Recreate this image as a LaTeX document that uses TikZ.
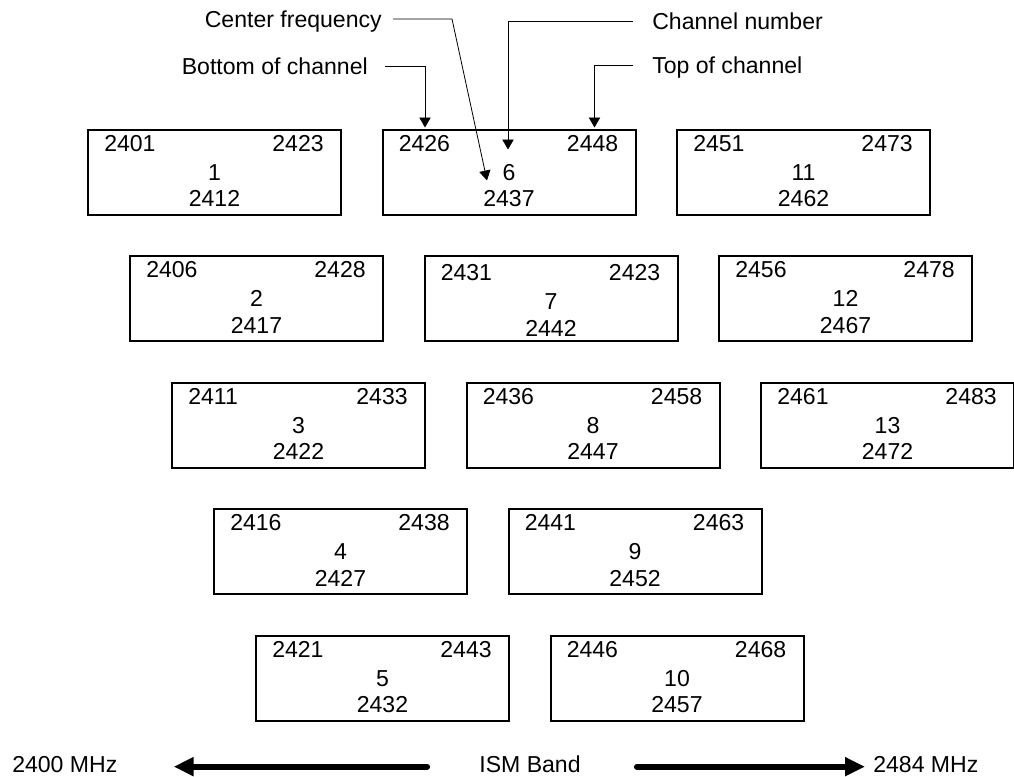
\documentclass[tikz,border=0pt]{standalone}
\usepackage{fontspec}
\setmainfont{Liberation Sans}
\usetikzlibrary{arrows.meta,calc}

\tikzset{
  chanbox/.style={draw, line width=1.5pt, anchor=north west, inner sep=0pt,
    minimum width=189.75pt, minimum height=63.75pt},
  txt/.style={inner sep=0pt, font=\fontsize{17.3}{20}\selectfont,
    text height=12.4pt, text depth=0pt},
  note/.style={line width=0.6pt, -{Triangle[length=7.5pt,width=8.5pt]}},
  bandarrow/.style={line width=4.5pt, line cap=round,
    -{Triangle[length=15pt,width=13.5pt]}},
}

% one channel box: id, left, top, low edge, high edge, channel, centre, text offset
\newcommand\chanbox[8]{%
  \node[chanbox] (#1) at (#2,#3) {};
  \node[txt, anchor=west] (#1lo) at ($(#1.north west)+(17,{14.5+#8})$) {#4};
  \node[txt, anchor=east] (#1hi) at ($(#1.north east)+(-18,{14.5+#8})$) {#5};
  \node[txt] (#1num) at ($(#1.north)+(0,{43.5+#8})$) {#6};
  \node[txt] (#1mid) at ($(#1.north)+(0,{70+#8})$) {#7};
}

\begin{document}
\begin{tikzpicture}[x=0.75pt, y=-0.75pt]
  \useasboundingbox (0,0) rectangle (1014,776);

  % channels, one row per step of 5 MHz
  \chanbox{c1}{87}{128.5}{2401}{2423}{1}{2412}{0}
  \chanbox{c6}{381.5}{128.5}{2426}{2448}{6}{2437}{0}
  \chanbox{c11}{676}{128.5}{2451}{2473}{11}{2462}{0}

  \chanbox{c2}{129}{255}{2406}{2428}{2}{2417}{0}
  \chanbox{c7}{423.5}{255}{2431}{2423}{7}{2442}{3}
  \chanbox{c12}{718}{255}{2456}{2478}{12}{2467}{0}

  \chanbox{c3}{171}{381.5}{2411}{2433}{3}{2422}{0}
  \chanbox{c8}{465.5}{381.5}{2436}{2458}{8}{2447}{0}
  \chanbox{c13}{760}{381.5}{2461}{2483}{13}{2472}{0}

  \chanbox{c4}{213}{508}{2416}{2438}{4}{2427}{0}
  \chanbox{c9}{507.5}{508}{2441}{2463}{9}{2452}{0}

  \chanbox{c5}{255}{634.5}{2421}{2443}{5}{2432}{0}
  \chanbox{c10}{549.5}{634.5}{2446}{2468}{10}{2457}{0}

  % legend labels
  \node[txt, anchor=east] (cf) at (382,19) {Center frequency};
  \node[txt, anchor=east] (bc) at (368,66) {Bottom of channel};
  \node[txt, anchor=west] (cn) at (652,21) {Channel number};
  \node[txt, anchor=west] (tc) at (652,65) {Top of channel};

  % arrow targets on channel 6
  \coordinate (tipB) at ($(c6.north west)+(43.5,-1)$);
  \coordinate (tipT) at ($(c6.north east)+(-42,-1)$);
  \coordinate (tipN) at ($(c6.north)+(-1,21)$);
  \coordinate (tipC) at ($(c6.north)+(-22,52)$);

  \draw[note] ([xshift=8.25pt]cf.east) -- ++(59,0) -- (tipC);
  \draw[note] ([xshift=12.75pt]bc.east) -- (bc.east -| tipB) -- (tipB);
  \draw[note] ([xshift=-14.25pt]cn.west) -- (cn.west -| tipN) -- (tipN);
  \draw[note] ([xshift=-14.25pt]tc.west) -- (tc.west -| tipT) -- (tipT);

  % ISM band extent
  \node[txt, anchor=west] (lo) at (12,764) {2400 MHz};
  \node[txt] (band) at (530,764) {ISM Band};
  \node[txt, anchor=west] (hi) at (873,764) {2484 MHz};
  \draw[bandarrow] ([xshift=-39pt, yshift=-2pt]band.west)
    -- ([xshift=42pt, yshift=-2pt]lo.east);
  \draw[bandarrow] ([xshift=42pt, yshift=-2pt]band.east)
    -- ([xshift=-6pt, yshift=-2pt]hi.west);
\end{tikzpicture}
\end{document}
